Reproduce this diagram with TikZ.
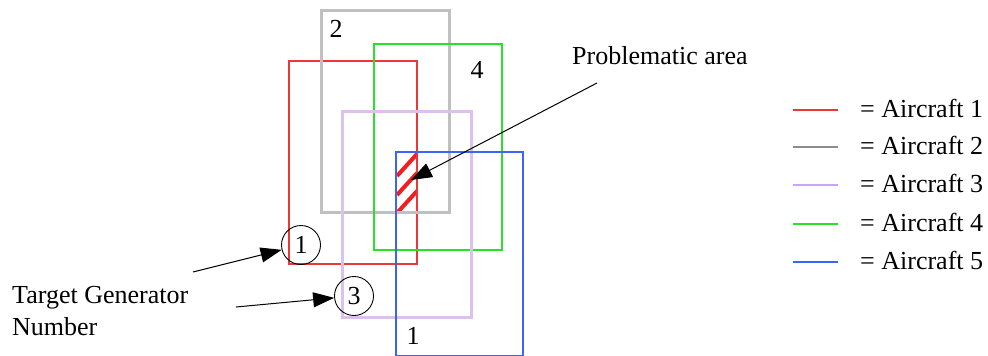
\documentclass[tikz,border=0pt]{standalone}
\usepackage{fontspec}
\setmainfont{Liberation Serif}
\usetikzlibrary{arrows.meta}
\definecolor{acred}{RGB}{235,55,55}
\definecolor{acgray}{RGB}{192,192,192}
\definecolor{aclav}{RGB}{222,192,236}
\definecolor{acgreen}{RGB}{40,225,40}
\definecolor{acblue}{RGB}{60,100,250}
\definecolor{keygray}{RGB}{140,140,140}
\definecolor{keylav}{RGB}{200,165,250}
\definecolor{hatchred}{RGB}{240,30,30}
\tikzset{
  acbox/.style={rectangle,draw=#1,anchor=north west,inner sep=0pt,line width=1.5pt},
  tgc/.style={circle,draw,line width=0.9pt,minimum size=39pt,inner sep=0pt,
    font=\fontsize{26}{32}\selectfont},
  lbl/.style={font=\fontsize{26}{32}\selectfont,inner sep=0pt},
  arr/.style={-{Triangle[length=21pt,width=15pt]},line width=1pt},
  key/.style={line width=1.6pt},
}
\begin{document}
\begin{tikzpicture}[x=1pt,y=-1pt]
    \useasboundingbox (0,0) rectangle (988,356);

    % ── Problematic area ──────────────────────────────────────────────────────
    \begin{scope}
      \clip (395,151) rectangle (416,211);
      \foreach \dy in {0,19,37}
        \draw[hatchred,line width=4pt] (397,176+\dy) -- (417,154+\dy);
    \end{scope}

    % ── Aircraft areas ────────────────────────────────────────────────────────
    \node[acbox=acred,minimum width=128pt,minimum height=203pt] (ac1) at (288,60) {};
    \node[acbox=acgray,line width=2.7pt,minimum width=128pt,minimum height=202pt] (ac2) at (320,9) {};
    \node[acbox=acgreen,minimum width=128pt,minimum height=206pt] (ac4) at (373,43) {};
    \node[acbox=aclav,line width=3pt,minimum width=129pt,minimum height=206pt] (ac3) at (341,110) {};
    \node[acbox=acblue,minimum width=127pt,minimum height=204pt] (ac5) at (395,151) {};

    \node[lbl] (n2) at (336,29) {2};
    \node[lbl] (n4) at (477,70) {4};
    \node[lbl] (n1) at (413,336) {1};

    \coordinate (patip) at (411,180);
    \coordinate (pastart) at (597,83);
    \node[lbl,anchor=base west] (pa) at (572,64) {Problematic area};
    \draw[arr] (pastart)--(patip);

    % ── Target generators ─────────────────────────────────────────────────────
    \node[tgc] (tg1) at (301,245) {1};
    \node[tgc] (tg3) at (354,296) {3};
    \node[lbl,anchor=base west,align=left] (tgn) at (12,335) {Target Generator\\Number};
    \coordinate (tgs1) at (193,272);
    \coordinate (tgs3) at (236,307);
    \draw[arr] (tgs1)--(tg1);
    \draw[arr] (tgs3)--(tg3);

    % ── Legend ────────────────────────────────────────────────────────────────
    \foreach \c/\y/\t in {acred/110/1,keygray/147/2,keylav/185/3,acgreen/224/4,acblue/262/5}{
      \draw[key,\c] (793,\y) -- (838,\y);
      \node[lbl,anchor=base west] (key\t) at (860,\y+7) {= Aircraft \t};
    }

  \end{tikzpicture}
\end{document}
